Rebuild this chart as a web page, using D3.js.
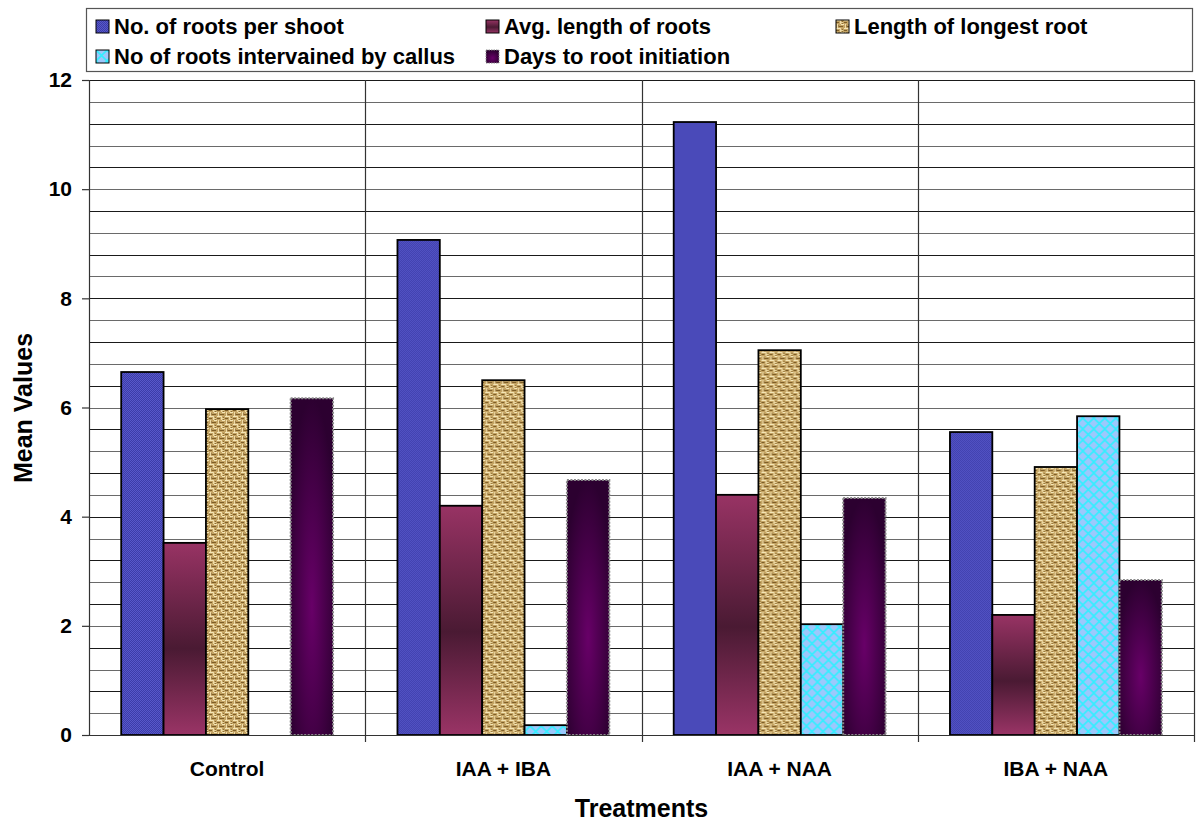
<!DOCTYPE html>
<html>
<head>
<meta charset="utf-8">
<script src="https://cdn.jsdelivr.net/npm/d3@7"></script>
<style>
  body { margin: 0; background: #fff; }
  svg { display: block; font-family: Arial, "Liberation Sans", sans-serif; font-weight: bold; }
</style>
</head>
<body>
<svg id="chart" width="1197" height="822"></svg>
<script>
// Rooting response of shoots to auxin treatments
const categories = ["Control", "IAA + IBA", "IAA + NAA", "IBA + NAA"];
const seriesNames = [
  "No. of roots per shoot",
  "Avg. length of roots",
  "Length of longest root",
  "No of roots intervained by callus",
  "Days to root initiation"
];
const rootsPerShoot   = [6.65, 9.07, 11.23, 5.55];
const avgRootLength   = [3.52, 4.20, 4.40, 2.20];
const longestRoot     = [5.97, 6.50, 7.05, 4.91];
const callusRoots     = [0.00, 0.18, 2.03, 5.84];
const daysToInitiation= [6.17, 4.67, 4.34, 2.84];
const yTicks = [0, 2, 4, 6, 8, 10, 12];

const seriesValues = [rootsPerShoot, avgRootLength, longestRoot, callusRoots, daysToInitiation];

const svg = d3.select("#chart");
const defs = svg.append("defs");

// --- fills ---
// fine blue checker
const pBlue = defs.append("pattern").attr("id", "fillBlue").attr("patternUnits", "userSpaceOnUse")
  .attr("width", 2).attr("height", 2);
pBlue.append("rect").attr("width", 2).attr("height", 2).attr("fill", "#5858ca");
pBlue.append("rect").attr("width", 1).attr("height", 1).attr("fill", "#3c3ca8");
pBlue.append("rect").attr("x", 1).attr("y", 1).attr("width", 1).attr("height", 1).attr("fill", "#3c3ca8");

// maroon vertical gradient
const gMaroon = defs.append("linearGradient").attr("id", "fillMaroon")
  .attr("x1", 0).attr("y1", 0).attr("x2", 0).attr("y2", 1);
gMaroon.append("stop").attr("offset", "0%").attr("stop-color", "#983364");
gMaroon.append("stop").attr("offset", "55%").attr("stop-color", "#4a1a33");
gMaroon.append("stop").attr("offset", "100%").attr("stop-color", "#9a3466");

// woven tan texture
const pTan = defs.append("pattern").attr("id", "fillTan").attr("patternUnits", "userSpaceOnUse")
  .attr("width", 8).attr("height", 8);
pTan.append("rect").attr("width", 8).attr("height", 8).attr("fill", "#c4a464");
const weave = [
  [0, 0, 4, 1, "#f4e6b8"], [4, 0, 1, 4, "#f0dca8"], [0, 2, 3, 1, "#7e5e28"],
  [5, 4, 3, 1, "#f4e6b8"], [1, 4, 1, 4, "#f0dca8"], [3, 6, 4, 1, "#7e5e28"],
  [6, 1, 1, 3, "#8e6e34"], [2, 5, 1, 2, "#a0804a"], [5, 2, 2, 1, "#e8d49c"]
];
weave.forEach(w => pTan.append("rect").attr("x", w[0]).attr("y", w[1]).attr("width", w[2]).attr("height", w[3]).attr("fill", w[4]));

// light blue with cyan lattice
const pCyan = defs.append("pattern").attr("id", "fillCyan").attr("patternUnits", "userSpaceOnUse")
  .attr("width", 11).attr("height", 11);
pCyan.append("rect").attr("width", 11).attr("height", 11).attr("fill", "#9cc8fc");
pCyan.append("path").attr("d", "M0,0L11,11M11,0L0,11").attr("stroke", "#33eeff").attr("stroke-width", 1.6);

// purple glow
const gPurple = defs.append("radialGradient").attr("id", "fillPurple")
  .attr("cx", 0.5).attr("cy", 0.62).attr("r", 0.62);
gPurple.append("stop").attr("offset", "0%").attr("stop-color", "#680068");
gPurple.append("stop").attr("offset", "100%").attr("stop-color", "#2c0030");

const fills = ["url(#fillBlue)", "url(#fillMaroon)", "url(#fillTan)", "url(#fillCyan)", "url(#fillPurple)"];

// --- scales ---
const plotLeft = 89, plotRight = 1194, plotTop = 80, plotBottom = 735;
const x0 = d3.scaleBand().domain(categories).range([plotLeft, plotRight]).padding(0);
const x1 = d3.scaleBand().domain(d3.range(seriesNames.length))
  .range([0, x0.bandwidth()]).paddingInner(0).paddingOuter(0.76);
const y = d3.scaleLinear().domain([0, 12]).range([plotBottom, plotTop]);

// --- gridlines every 0.4 ---
const gridVals = d3.range(0, 12.0001, 0.4).map(v => +v.toFixed(1));
svg.append("g").selectAll("line").data(gridVals.filter(v => v > 0)).join("line")
  .attr("x1", plotLeft).attr("x2", plotRight)
  .attr("y1", d => Math.round(y(d)) + 0.5).attr("y2", d => Math.round(y(d)) + 0.5)
  .attr("stroke", (d, i) => i % 2 ? "#1a1a1a" : "#6a6a6a").attr("stroke-width", 1.2);

// category separators, extending below the axis as ticks
svg.append("g").selectAll("line").data(categories.slice(1).map(c => x0(c)).concat([plotRight])).join("line")
  .attr("x1", d => Math.round(d) + 0.5).attr("x2", d => Math.round(d) + 0.5)
  .attr("y1", plotTop).attr("y2", plotBottom + 7)
  .attr("stroke", "#333").attr("stroke-width", 1.2);

// --- bars ---
const groups = svg.append("g").selectAll("g").data(categories).join("g")
  .attr("transform", d => `translate(${x0(d)},0)`);
groups.selectAll("rect").data((c, ci) => seriesValues.map((vals, si) => ({ si, v: vals[ci] })))
  .join("rect")
  .filter(d => d.v > 0)
  .attr("x", d => x1(d.si))
  .attr("width", x1.bandwidth())
  .attr("y", d => y(d.v))
  .attr("height", d => y(0) - y(d.v))
  .attr("fill", d => fills[d.si])
  .attr("stroke", d => d.si === 4 ? "#8a8a8a" : "#000")
  .attr("stroke-width", d => d.si === 4 ? 2 : 1.8)
  .attr("stroke-dasharray", d => d.si === 4 ? "2,1.5" : null);

// --- axes ---
const axisFont = "Arial, 'Liberation Sans', sans-serif";
const yAxis = d3.axisLeft(y).tickValues(yTicks).tickSize(7).tickPadding(10).tickFormat(d3.format("d"));
const gy = svg.append("g").attr("transform", `translate(${plotLeft},0)`).call(yAxis);
gy.select(".domain").attr("stroke", "#333").attr("stroke-width", 1.2);
gy.selectAll(".tick line").attr("stroke", "#333").attr("stroke-width", 1.2);
gy.selectAll("text").attr("font-size", 21).attr("font-weight", "bold").attr("fill", "#000")
  .attr("font-family", axisFont);

const xAxis = d3.axisBottom(x0).tickSize(0).tickPadding(26);
const gx = svg.append("g").attr("transform", `translate(0,${plotBottom})`).call(xAxis);
gx.select(".domain").attr("stroke", "#333").attr("stroke-width", 1.2);
gx.selectAll("text").attr("font-size", 21).attr("font-weight", "bold").attr("fill", "#000")
  .attr("font-family", axisFont);

// axis titles
svg.append("text").attr("x", (plotLeft + plotRight) / 2).attr("y", 817)
  .attr("text-anchor", "middle").attr("font-size", 25).text("Treatments");
svg.append("text").attr("transform", "translate(32,408) rotate(-90)")
  .attr("text-anchor", "middle").attr("font-size", 25).text("Mean Values");

// --- legend ---
const legend = svg.append("g");
legend.append("rect").attr("x", 86.5).attr("y", 8.5).attr("width", 1106).attr("height", 63)
  .attr("fill", "#fff").attr("stroke", "#555").attr("stroke-width", 1.2);
const legendPos = [
  [96, 20], [486, 20], [836, 20],
  [96, 50], [486, 50]
];
const items = legend.selectAll("g.item").data(seriesNames).join("g").attr("class", "item")
  .attr("transform", (d, i) => `translate(${legendPos[i][0]},${legendPos[i][1]})`);
items.append("rect").attr("width", 13).attr("height", 13)
  .attr("fill", (d, i) => fills[i])
  .attr("stroke", (d, i) => i === 4 ? "#8a8a8a" : "#000")
  .attr("stroke-width", 1)
  .attr("stroke-dasharray", (d, i) => i === 4 ? "1.5,1" : null);
items.append("text").attr("x", 18).attr("y", 13.5).attr("font-size", 22).text(d => d);
</script>
</body>
</html>
